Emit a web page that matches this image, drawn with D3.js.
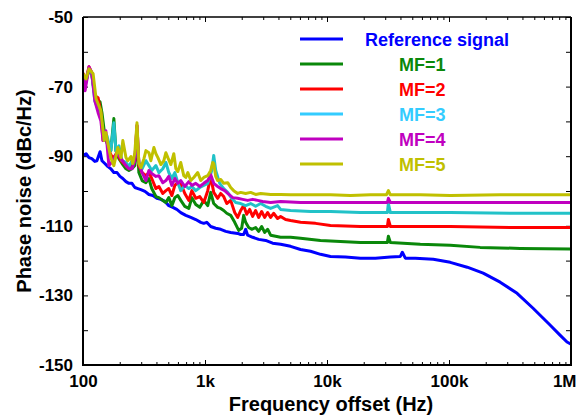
<!DOCTYPE html>
<html>
<head>
<meta charset="utf-8">
<script src="https://cdn.jsdelivr.net/npm/d3@7"></script>
<style>
  body { margin: 0; background: #fff; }
  text { font-family: "Liberation Sans", Arial, Helvetica, sans-serif; font-weight: bold; }
</style>
</head>
<body>
<svg id="chart" width="585" height="415"></svg>
<script>
// series: [offset frequency (Hz), phase noise (dBc/Hz)]
const refSignal = [
  [100,-89.8],[106,-89.3],[112,-90.4],[118,-90.7],[125,-91.5],[130,-91.3],[138,-88.7],[143,-91.3],
  [151,-92.1],[160,-93.0],[169,-93.6],[179,-94.7],[190,-94.7],[201,-95.8],[212,-96.4],[225,-97.3],
  [238,-97.8],[252,-97.8],[266,-99.0],[282,-99.3],[298,-99.6],[322,-100.1],[347,-101.0],[374,-101.3],
  [403,-102.1],[435,-102.4],[469,-103.0],[505,-104.2],[545,-104.7],[587,-105.3],[633,-106.2],[696,-107.0],
  [765,-107.6],[840,-108.2],[923,-109.0],[977,-109.3],[1034,-109.0],[1114,-110.2],[1224,-110.7],[1345,-111.0],
  [1479,-111.6],[1624,-111.9],[1853,-112.2],[1961,-112.5],[2075,-112.5],[2154,-111.0],[2237,-112.7],[2458,-113.3],
  [2752,-113.9],[3140,-114.2],[3584,-115.0],[4165,-115.3],[5027,-115.9],[6070,-116.8],[7328,-117.3],[8847,-118.2],
  [10680,-118.8],[14170,-119.0],[18790,-119.3],[24920,-119.3],[33070,-119.0],[39930,-118.8],[41450,-117.6],[43860,-119.3],
  [52950,-119.3],[74320,-119.6],[102400,-120.5],[141000,-121.9],[190600,-123.6],[262600,-126.2],[361600,-129.4],
  [488900,-133.7],[673300,-138.5],[812800,-141.4],[927500,-143.4],[1000000,-144.0]
];

const mf1 = [
  [100,-66.3],[104,-69.5],[112,-64.9],[118,-66.6],[125,-72.6],[133,-74.1],[138,-74.4],[143,-77.5],
  [151,-84.1],[160,-87.0],[169,-88.4],[179,-79.2],[186,-88.4],[197,-90.7],[209,-92.1],[225,-93.6],
  [238,-94.1],[252,-93.6],[266,-92.7],[277,-84.1],[287,-94.7],[305,-97.0],[328,-97.6],[347,-96.4],
  [366,-99.3],[396,-101.6],[419,-101.9],[451,-102.7],[478,-103.3],[505,-101.9],[535,-104.2],[566,-101.9],
  [599,-101.3],[633,-102.7],[683,-104.4],[737,-105.0],[780,-101.9],[840,-103.9],[906,-104.7],[977,-102.7],
  [1053,-104.2],[1114,-100.4],[1179,-103.6],[1271,-104.7],[1345,-105.0],[1424,-105.6],[1507,-106.4],[1624,-107.0],
  [1752,-109.0],[1889,-111.3],[1998,-110.7],[2075,-107.0],[2154,-109.0],[2280,-110.5],[2413,-111.0],[2601,-110.5],
  [2752,-111.6],[2913,-110.2],[3082,-111.9],[3261,-111.0],[3450,-112.7],[3791,-113.0],[4165,-113.3],[5027,-113.3],
  [6070,-113.6],[8847,-114.2],[12890,-114.5],[18790,-114.8],[31250,-114.8],[31850,-113.0],[33070,-114.8],
  [58200,-115.3],[102400,-115.6],[180100,-116.2],[382600,-116.5],[1000000,-116.7]
];

const mf2 = [
  [100,-66.0],[104,-68.9],[112,-64.3],[118,-66.0],[125,-72.6],[133,-73.2],[140,-77.5],[146,-85.5],
  [154,-84.1],[163,-88.4],[176,-90.7],[190,-89.0],[205,-91.3],[225,-92.7],[238,-93.6],[252,-92.7],
  [266,-91.3],[277,-81.2],[287,-92.7],[305,-94.7],[328,-95.6],[347,-94.7],[366,-96.4],[396,-99.3],
  [419,-98.7],[451,-100.7],[478,-99.9],[505,-99.3],[535,-101.3],[566,-98.4],[599,-97.6],[633,-97.8],
  [683,-100.7],[737,-102.7],[780,-99.9],[840,-102.1],[906,-101.6],[977,-103.3],[1053,-99.9],[1114,-95.8],
  [1179,-100.4],[1271,-102.1],[1345,-100.7],[1424,-101.6],[1507,-103.6],[1624,-102.7],[1752,-106.2],[1853,-107.6],
  [1961,-105.6],[2075,-104.2],[2196,-106.7],[2323,-105.3],[2458,-107.3],[2601,-105.6],[2752,-107.6],[2913,-105.9],
  [3082,-107.6],[3261,-106.2],[3450,-107.6],[3651,-106.4],[3936,-107.9],[4165,-107.3],[4576,-108.2],[5027,-108.5],
  [6070,-109.0],[8054,-109.3],[10680,-109.9],[18790,-110.2],[31250,-110.2],[31850,-108.2],[33070,-110.2],
  [102400,-110.2],[317000,-110.5],[1000000,-110.5]
];

const mf3 = [
  [100,-66.6],[104,-69.8],[112,-64.9],[118,-66.3],[125,-74.1],[133,-76.4],[140,-78.4],[149,-85.5],
  [157,-84.1],[169,-88.4],[179,-80.4],[186,-88.4],[197,-87.0],[209,-91.3],[225,-91.8],[238,-93.0],
  [252,-91.3],[266,-90.4],[277,-84.1],[287,-91.8],[305,-93.6],[328,-91.3],[347,-92.7],[366,-94.1],
  [396,-92.7],[419,-94.7],[451,-93.6],[478,-91.8],[505,-94.7],[535,-96.4],[566,-94.7],[599,-97.6],
  [633,-99.9],[683,-98.4],[737,-99.3],[780,-98.7],[840,-99.9],[906,-99.0],[977,-98.4],[1053,-97.8],
  [1136,-94.1],[1179,-89.8],[1224,-94.1],[1320,-97.8],[1424,-99.3],[1535,-100.4],[1655,-102.1],[1785,-103.3],
  [1961,-103.6],[2154,-104.2],[2367,-103.6],[2601,-104.4],[2858,-103.6],[3140,-104.4],[3450,-105.0],[3936,-104.2],
  [4165,-105.3],[5027,-105.6],[7328,-105.9],[10680,-105.9],[18790,-106.2],[31250,-106.2],[31850,-103.6],
  [33070,-106.2],[102400,-106.2],[317000,-106.4],[1000000,-106.4]
];

const mf4 = [
  [100,-66.9],[104,-71.2],[112,-64.3],[118,-66.0],[125,-74.1],[133,-77.5],[140,-79.8],[146,-85.5],
  [154,-82.7],[163,-92.7],[176,-91.3],[190,-89.0],[205,-90.7],[225,-92.7],[238,-93.6],[252,-93.6],
  [266,-91.3],[277,-81.2],[287,-92.1],[305,-94.7],[328,-97.0],[347,-94.1],[366,-95.0],[396,-95.8],
  [419,-95.6],[451,-97.6],[478,-97.0],[505,-95.8],[535,-98.4],[566,-96.4],[599,-97.8],[633,-97.0],
  [683,-98.7],[737,-97.3],[780,-98.4],[840,-97.8],[906,-98.7],[977,-97.8],[1053,-97.0],[1114,-95.3],
  [1179,-97.8],[1271,-98.7],[1345,-99.3],[1451,-99.9],[1535,-100.7],[1687,-101.9],[1853,-102.1],[2036,-102.4],
  [2237,-102.7],[2458,-102.4],[2701,-102.7],[2969,-103.0],[3450,-103.3],[4165,-103.0],[6070,-103.3],[10680,-103.3],
  [22690,-103.3],[31250,-103.3],[31850,-102.1],[33070,-103.3],[102400,-103.3],[382600,-103.3],[1000000,-103.3]
];

const mf5 = [
  [100,-66.3],[106,-67.8],[112,-64.9],[116,-65.5],[121,-66.3],[128,-73.5],[135,-75.5],[140,-76.9],
  [149,-85.5],[154,-83.2],[160,-86.4],[169,-90.4],[179,-92.7],[193,-87.5],[205,-90.4],[212,-85.5],
  [225,-90.4],[233,-91.3],[247,-90.1],[256,-92.1],[266,-89.0],[277,-80.4],[287,-92.1],[298,-93.3],
  [316,-90.7],[328,-88.4],[347,-89.0],[360,-91.3],[381,-87.5],[396,-89.3],[411,-90.4],[435,-92.4],
  [460,-91.3],[478,-89.0],[496,-90.4],[525,-92.4],[555,-89.3],[577,-93.6],[599,-94.4],[633,-91.8],
  [670,-95.6],[696,-96.1],[723,-94.7],[765,-97.0],[809,-96.1],[872,-94.7],[923,-97.0],[977,-96.1],
  [1053,-95.6],[1114,-94.1],[1157,-91.8],[1179,-92.1],[1224,-95.8],[1271,-97.0],[1345,-96.7],[1424,-97.8],
  [1535,-97.6],[1624,-99.0],[1719,-99.9],[1853,-100.7],[1961,-100.4],[2154,-100.7],[2367,-100.4],[2601,-101.0],
  [2858,-100.7],[3450,-101.0],[4165,-101.0],[5027,-101.1],[7328,-101.1],[10680,-101.1],[15570,-101.3],
  [22690,-101.1],[30670,-101.1],[31850,-99.9],[33070,-101.1],[58200,-101.1],[102400,-101.3],[262600,-101.1],
  [557800,-101.1],[1000000,-101.1]
];

const seriesNames = ["Reference signal", "MF=1", "MF=2", "MF=3", "MF=4", "MF=5"];
const seriesData = [refSignal, mf1, mf2, mf3, mf4, mf5];
const lineColors = ["#0000ff", "#0a880a", "#ff0000", "#22c2c8", "#c000c0", "#c0c000"];
const labelColors = ["#0000ff", "#0a880a", "#ff0000", "#33ccff", "#c000c0", "#c0c000"];

const xMajorTicks = [1e2, 1e3, 1e4, 1e5, 1e6];
const xTickLabels = ["100", "1k", "10k", "100k", "1M"];
const yTicks = d3.range(-150, -49, 10);
const yLabelled = [-150, -130, -110, -90, -70, -50];

const svg = d3.select("#chart");
const plot = { left: 83, right: 571, top: 17, bottom: 365 };

const x = d3.scaleLog().domain([1e2, 1e6]).range([plot.left, plot.right]);
const y = d3.scaleLinear().domain([-150, -50]).range([plot.bottom, plot.top]);

let xMinor = [];
for (let e = 2; e < 6; e++) {
  for (let m = 2; m <= 9; m++) xMinor.push(m * Math.pow(10, e));
}

// minor x ticks, bottom and top
svg.append("g")
  .attr("transform", `translate(0,${plot.bottom})`)
  .call(d3.axisBottom(x).tickValues(xMinor).tickSize(-3).tickFormat(""))
  .call(g => g.select(".domain").remove());
svg.append("g")
  .attr("transform", `translate(0,${plot.top})`)
  .call(d3.axisTop(x).tickValues(xMinor).tickSize(-3).tickFormat(""))
  .call(g => g.select(".domain").remove());

// major x ticks
const xAxis = svg.append("g")
  .attr("transform", `translate(0,${plot.bottom})`)
  .call(d3.axisBottom(x).tickValues(xMajorTicks).tickSize(-5).tickPadding(8)
    .tickFormat((d, i) => xTickLabels[i]));
xAxis.select(".domain").remove();
xAxis.selectAll("text").attr("font-size", 17).attr("fill", "#000")
  .attr("y", 10).attr("dy", "0.71em");
xAxis.selectAll(".tick").filter(d => d === 1e6).select("text")
  .attr("text-anchor", "end").attr("x", 5);

svg.append("g")
  .attr("transform", `translate(0,${plot.top})`)
  .call(d3.axisTop(x).tickValues(xMajorTicks).tickSize(-5).tickFormat(""))
  .call(g => g.select(".domain").remove());

// y ticks
const yAxis = svg.append("g")
  .attr("transform", `translate(${plot.left},0)`)
  .call(d3.axisLeft(y).tickValues(yTicks).tickSize(-5).tickPadding(10)
    .tickFormat(d => yLabelled.includes(d) ? String(d) : ""));
yAxis.select(".domain").remove();
yAxis.selectAll("text").attr("font-size", 17).attr("fill", "#000");

svg.append("g")
  .attr("transform", `translate(${plot.right},0)`)
  .call(d3.axisRight(y).tickValues(yTicks).tickSize(-5).tickFormat(""))
  .call(g => g.select(".domain").remove());

svg.selectAll(".tick line").attr("stroke", "#000").attr("stroke-width", 1);

// data lines
svg.append("clipPath").attr("id", "clip")
  .append("rect")
  .attr("x", plot.left).attr("y", plot.top)
  .attr("width", plot.right - plot.left).attr("height", plot.bottom - plot.top);

const line = d3.line().x(d => x(d[0])).y(d => y(d[1]));

svg.append("g").attr("clip-path", "url(#clip)")
  .selectAll("path")
  .data(seriesData)
  .join("path")
  .attr("d", line)
  .attr("fill", "none")
  .attr("stroke", (d, i) => lineColors[i])
  .attr("stroke-width", 3)
  .attr("stroke-linejoin", "round");

// frame
svg.append("line").attr("x1", plot.left).attr("x2", plot.right)
  .attr("y1", plot.top).attr("y2", plot.top)
  .attr("stroke", "#000").attr("stroke-width", 1.3);
svg.append("path")
  .attr("d", `M${plot.left},${plot.top}V${plot.bottom}H${plot.right}V${plot.top}`)
  .attr("fill", "none").attr("stroke", "#000").attr("stroke-width", 2);

// legend
const legend = svg.append("g");
seriesNames.forEach((name, i) => {
  const ly = 39 + i * 25;
  legend.append("line")
    .attr("x1", 300).attr("x2", 343).attr("y1", ly).attr("y2", ly)
    .attr("stroke", labelColors[i]).attr("stroke-width", 3);
  legend.append("text")
    .attr("x", i === 0 ? 365 : 399).attr("y", ly + 7)
    .attr("font-size", 18).attr("fill", labelColors[i])
    .text(name);
});

// axis titles
svg.append("text")
  .attr("x", (plot.left + plot.right) / 2 + 4).attr("y", 411)
  .attr("text-anchor", "middle").attr("font-size", 20)
  .text("Frequency offset (Hz)");

svg.append("text")
  .attr("transform", `translate(31,${(plot.top + plot.bottom) / 2}) rotate(-90)`)
  .attr("text-anchor", "middle").attr("font-size", 20)
  .text("Phase noise (dBc/Hz)");
</script>
</body>
</html>
